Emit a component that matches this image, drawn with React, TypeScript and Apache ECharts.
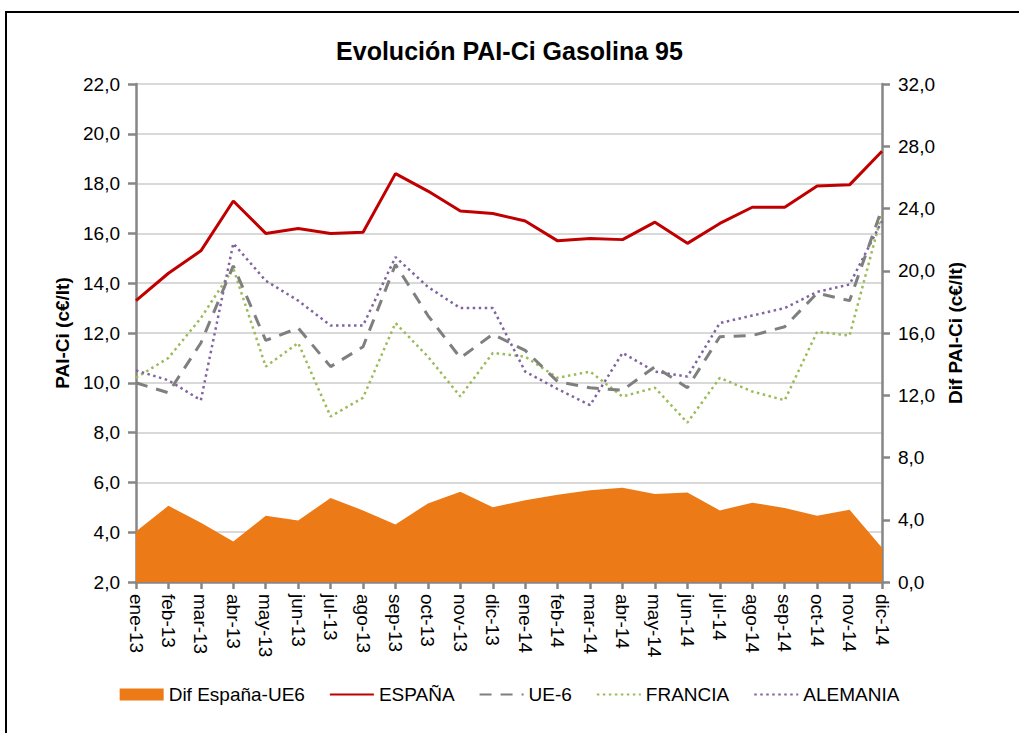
import React, { useEffect, useRef } from "react";
import * as echarts from "echarts";

const months = [
  "ene-13", "feb-13", "mar-13", "abr-13", "may-13", "jun-13", "jul-13", "ago-13",
  "sep-13", "oct-13", "nov-13", "dic-13", "ene-14", "feb-14", "mar-14", "abr-14",
  "may-14", "jun-14", "jul-14", "ago-14", "sep-14", "oct-14", "nov-14", "dic-14",
];

const espana = [13.3, 14.4, 15.3, 17.3, 16.0, 16.2, 16.0, 16.05, 18.4, 17.7, 16.9, 16.8, 16.5, 15.7, 15.8, 15.75, 16.45, 15.6, 16.4, 17.05, 17.05, 17.9, 17.95, 19.3];
const ue6 = [10.0, 9.6, 11.6, 14.7, 11.7, 12.2, 10.65, 11.45, 14.75, 12.7, 11.0, 11.95, 11.3, 10.05, 9.8, 9.7, 10.65, 9.8, 11.85, 11.9, 12.25, 13.6, 13.3, 17.0];
const francia = [10.2, 11.0, 12.6, 14.6, 10.65, 11.6, 8.65, 9.4, 12.4, 11.05, 9.45, 11.2, 11.05, 10.2, 10.45, 9.45, 9.8, 8.4, 10.2, 9.65, 9.3, 12.05, 11.9, 16.8];
const alemania = [10.5, 10.1, 9.3, 15.6, 14.1, 13.3, 12.3, 12.3, 15.05, 13.85, 13.0, 13.0, 10.45, 9.75, 9.1, 11.2, 10.45, 10.25, 12.4, 12.7, 13.0, 13.65, 13.95, 16.5];
const dif = [3.25, 4.9, 3.8, 2.6, 4.25, 3.95, 5.4, 4.6, 3.7, 5.05, 5.8, 4.8, 5.25, 5.6, 5.9, 6.05, 5.65, 5.75, 4.6, 5.1, 4.75, 4.25, 4.65, 2.2];

const seriesNames = ["Dif España-UE6", "ESPAÑA", "UE-6", "FRANCIA", "ALEMANIA"];

const FONT = "'Liberation Sans', Arial, sans-serif";
const AXIS = "#868686";
const fmt = (v: number) => v.toFixed(1).replace(".", ",");

export default function App() {
  const ref = useRef<HTMLDivElement>(null);
  useEffect(() => {
    if (!ref.current) return;
    const chart = echarts.init(ref.current, null, { renderer: "svg" });
    const axisCommon = {
      type: "value" as const,
      axisLine: { show: true, lineStyle: { color: AXIS, width: 2.5 } },
      axisTick: { show: true, length: 8, lineStyle: { color: AXIS, width: 2.5 } },
      axisLabel: { formatter: fmt, fontSize: 19, fontFamily: FONT, color: "#000", margin: 16 },
      nameLocation: "middle" as const,
      nameRotate: 90,
      nameGap: 64,
      nameTextStyle: { fontSize: 19, fontWeight: "bold" as const, fontFamily: FONT, color: "#000" },
    };
    const hiddenSymbol = { itemStyle: { opacity: 0 } };
    chart.setOption({
      animation: false,
      backgroundColor: "#fff",
      textStyle: { fontFamily: FONT },
      title: {
        text: "Evolución PAI-Ci Gasolina 95",
        left: "center",
        top: 33,
        textStyle: { fontFamily: FONT, fontSize: 25, fontWeight: "bold", color: "#000" },
      },
      legend: {
        top: 680,
        left: "center",
        itemWidth: 44,
        itemHeight: 12,
        itemGap: 24,
        textStyle: { fontSize: 19, fontFamily: FONT, color: "#000" },
        data: [
          { name: seriesNames[0], icon: "rect" },
          { name: seriesNames[1], ...hiddenSymbol },
          { name: seriesNames[2], ...hiddenSymbol },
          { name: seriesNames[3], ...hiddenSymbol },
          { name: seriesNames[4], ...hiddenSymbol },
        ],
      },
      grid: { left: 136, right: 137, top: 84, bottom: 151 },
      xAxis: {
        type: "category",
        data: months,
        boundaryGap: false,
        axisLine: { lineStyle: { color: AXIS, width: 2.5 } },
        axisTick: { show: true, length: 7, interval: 0, lineStyle: { color: AXIS, width: 2.5 } },
        axisLabel: { interval: 0, rotate: -90, margin: 12, fontSize: 19, fontFamily: FONT, color: "#000" },
        splitLine: { show: false },
      },
      yAxis: [
        {
          ...axisCommon,
          position: "left",
          min: 2,
          max: 22,
          interval: 2,
          name: "PAI-Ci (c€/lt)",
          splitLine: { show: true, lineStyle: { color: "#d9d9d9", width: 2 } },
        },
        {
          ...axisCommon,
          position: "right",
          min: 0,
          max: 32,
          interval: 4,
          name: "Dif PAI-Ci (c€/lt)",
          splitLine: { show: false },
        },
      ],
      series: [
        {
          name: seriesNames[0],
          type: "line",
          yAxisIndex: 1,
          data: dif,
          symbol: "none",
          lineStyle: { width: 0, color: "#eb7a17" },
          itemStyle: { color: "#eb7a17" },
          areaStyle: { color: "#eb7a17", opacity: 1 },
          z: 1,
        },
        {
          name: seriesNames[1],
          type: "line",
          data: espana,
          symbol: "none",
          lineStyle: { width: 3, color: "#c00000" },
          itemStyle: { color: "#c00000" },
          z: 5,
        },
        {
          name: seriesNames[2],
          type: "line",
          data: ue6,
          symbol: "none",
          lineStyle: { width: 3, color: "#7f7f7f", type: [12, 9] },
          itemStyle: { color: "#7f7f7f" },
          z: 4,
        },
        {
          name: seriesNames[3],
          type: "line",
          data: francia,
          symbol: "none",
          lineStyle: { width: 2.5, color: "#9bbb59", type: [2.5, 3.5] },
          itemStyle: { color: "#9bbb59" },
          z: 3,
        },
        {
          name: seriesNames[4],
          type: "line",
          data: alemania,
          symbol: "none",
          lineStyle: { width: 2.5, color: "#8064a2", type: [2.5, 3.5] },
          itemStyle: { color: "#8064a2" },
          z: 3,
        },
      ],
      graphic: [
        {
          type: "rect",
          shape: { x: 6, y: 12, width: 1100, height: 800 },
          style: { fill: "none", stroke: "#000", lineWidth: 2 },
          silent: true,
        },
      ],
    });
    return () => chart.dispose();
  }, []);
  return (
    <div
      ref={ref}
      style={{ position: "fixed", left: 0, top: 0, width: 1019, height: 733 }}
    />
  );
}
